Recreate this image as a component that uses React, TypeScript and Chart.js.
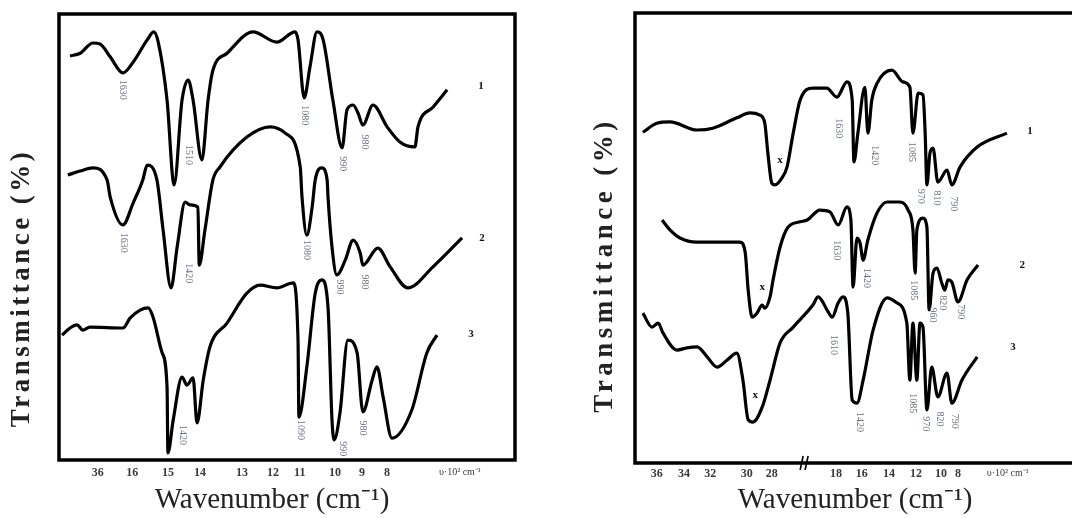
import React, { useEffect, useRef } from "react";
import { Chart, registerables } from "chart.js";

Chart.register(...registerables);

type P = [number, number];
type Note = [number, number, string];

// ---------- LEFT PANEL (x: position along the wavenumber axis, y: transmittance %) ----------
const leftTickPos = [8.8, 16.6, 24.7, 32.0, 41.5, 48.5, 54.6, 62.6, 68.7, 74.4, 90.9];
const leftTickLabels = ["36", "16", "15", "14", "13", "12", "11", "10", "9", "8", "υ·10² cm⁻¹"];

const left1: P[] = [
  [2.5, 90.6], [4.8, 91.2], [7.7, 93.5], [9.3, 93.3], [11.6, 90.4], [14.5, 86.8], [16.8, 89.2],
  [20.0, 94.2], [21.5, 96.0], [22.5, 93.7], [24.5, 80.7], [26.1, 61.7], [27.9, 80.7], [29.3, 85.2],
  [30.4, 80.7], [32.4, 67.3], [33.8, 80.7], [34.9, 87.4], [38.1, 91.2], [44.0, 96.0], [49.4, 93.7],
  [53.5, 96.0], [54.2, 94.2], [55.6, 81.2], [56.9, 88.1], [58.5, 96.0], [59.9, 94.2], [62.1, 80.7],
  [64.2, 70.0], [65.3, 78.5], [66.7, 79.6], [67.8, 77.8], [68.9, 75.1], [71.2, 79.6], [74.4, 74.7],
  [77.3, 71.3], [80.7, 70.2], [81.4, 74.7], [84.8, 79.1], [88.0, 83.0],
];
const left2: P[] = [
  [2.0, 63.9], [4.8, 64.8], [7.7, 65.5], [10.9, 62.8], [11.6, 59.0], [14.5, 52.7], [16.8, 57.6],
  [19.0, 62.8], [20.0, 66.1], [22.2, 62.8], [23.6, 51.6], [25.4, 38.6], [26.8, 47.8], [28.6, 57.8],
  [29.7, 57.2], [31.5, 56.7], [31.8, 43.7], [33.1, 51.6], [34.9, 62.8], [36.5, 65.7], [42.6, 72.4],
  [47.9, 74.7], [51.3, 73.3], [54.7, 65.7], [55.1, 59.0], [56.2, 50.4], [57.4, 56.7], [58.1, 62.8],
  [59.6, 65.5], [60.8, 62.8], [61.0, 59.0], [61.9, 47.8], [63.0, 41.5], [64.9, 44.8], [66.7, 49.3],
  [68.3, 46.4], [68.9, 43.7], [72.3, 47.5], [75.1, 43.3], [79.1, 38.6], [84.8, 43.3], [91.4, 49.8],
];
const left3: P[] = [
  [0.7, 28.0], [2.5, 29.6], [4.1, 30.3], [5.4, 29.1], [7.0, 29.8], [14.5, 29.6], [16.1, 31.8],
  [18.4, 33.6], [20.2, 34.1], [21.3, 32.1], [23.4, 24.0], [24.5, 16.4], [24.7, 1.6], [25.9, 9.0],
  [27.9, 18.6], [29.0, 16.8], [30.4, 18.4], [31.3, 8.3], [32.7, 17.9], [34.2, 25.3], [38.1, 30.7],
  [42.6, 37.4], [45.6, 39.2], [49.4, 38.6], [53.1, 39.7], [54.2, 26.9], [54.4, 9.6], [56.2, 20.9],
  [58.1, 37.4], [59.6, 40.4], [61.0, 34.3], [61.9, 9.0], [62.4, 4.5], [63.7, 10.5], [65.5, 26.9],
  [67.6, 24.0], [68.9, 10.8], [71.0, 17.9], [72.1, 20.9], [73.5, 14.1], [75.5, 4.9], [80.0, 11.2],
  [83.4, 24.0], [85.7, 28.0],
];
const leftPeaks: Note[] = [
  [14.5, 83.0, "1630"], [29.3, 68.4, "1510"], [55.6, 77.3, "1080"], [64.4, 66.4, "990"], [69.4, 71.3, "980"],
  [14.7, 48.7, "1630"], [29.3, 41.9, "1420"], [56.2, 47.1, "1080"], [63.7, 38.8, "990"], [69.2, 39.9, "980"],
  [28.1, 5.6, "1420"], [54.7, 6.7, "1090"], [64.2, 2.5, "990"], [68.9, 7.2, "980"],
];
const leftCurveNames: Note[] = [[95.7, 83.9, "1"], [95.9, 49.8, "2"], [93.4, 28.2, "3"]];

// ---------- RIGHT PANEL ----------
const rightTickPos = [5.0, 11.2, 17.2, 25.6, 31.3, 46.0, 51.9, 58.1, 64.3, 70.0, 73.9, 85.3];
const rightTickLabels = ["36", "34", "32", "30", "28", "18", "16", "14", "12", "10", "8", "υ·10² cm⁻¹"];
const rightBreakPos = 38.7;

const right1: P[] = [
  [1.8, 73.5], [5.0, 75.5], [8.0, 75.8], [14.2, 74.0], [17.8, 74.4], [23.3, 76.7], [26.3, 77.8],
  [28.6, 77.3], [29.7, 75.5], [30.4, 68.9], [31.3, 62.2], [32.0, 61.8], [33.6, 63.3], [34.8, 65.8],
  [36.2, 73.3], [37.8, 80.7], [40.7, 83.3], [43.9, 83.3], [46.2, 81.3], [48.5, 84.7], [49.7, 80.7],
  [50.1, 66.9], [51.0, 73.3], [52.6, 83.5], [53.3, 73.3], [54.2, 80.7], [55.4, 84.4], [58.8, 87.3],
  [61.3, 84.7], [62.9, 83.5], [63.6, 73.3], [64.8, 82.2], [65.9, 81.8], [66.4, 73.3], [66.8, 61.8],
  [67.5, 68.9], [68.2, 70.0], [69.3, 62.4], [71.4, 65.1], [72.5, 61.8], [74.4, 65.8], [78.3, 70.2],
  [85.1, 73.3],
];
const right2: P[] = [
  [6.2, 54.0], [8.0, 51.8], [10.3, 50.0], [14.2, 49.1], [24.0, 49.1], [25.2, 46.9], [25.9, 38.4],
  [26.8, 32.4], [27.9, 33.3], [29.1, 35.1], [29.7, 34.4], [30.9, 36.9], [31.6, 40.7], [33.2, 48.0],
  [35.0, 52.4], [37.8, 53.6], [39.4, 54.0], [42.3, 56.2], [44.6, 55.8], [46.5, 52.9], [48.5, 56.9],
  [49.4, 54.0], [49.9, 39.1], [50.8, 50.0], [51.5, 48.9], [52.2, 45.1], [53.3, 49.6], [55.4, 55.6],
  [57.7, 58.0], [60.6, 58.0], [62.5, 56.2], [63.6, 51.8], [64.1, 42.2], [64.5, 51.8], [65.9, 54.4],
  [66.8, 52.4], [67.3, 34.0], [68.2, 42.2], [69.1, 43.3], [70.2, 40.0], [70.9, 38.4], [71.6, 40.7],
  [72.5, 40.2], [73.9, 35.8], [76.0, 40.7], [78.5, 44.0],
];
const right3: P[] = [
  [1.8, 33.3], [3.9, 30.2], [5.3, 31.1], [6.4, 28.9], [9.6, 25.1], [11.9, 25.6], [14.2, 25.8],
  [16.5, 23.6], [18.8, 21.3], [21.1, 22.9], [23.3, 24.4], [24.7, 18.4], [25.9, 9.6], [27.0, 9.1],
  [29.1, 12.4], [30.9, 18.4], [33.2, 26.7], [36.2, 30.2], [40.7, 35.1], [41.9, 36.9], [44.2, 33.6],
  [45.1, 32.4], [46.5, 35.6], [47.6, 36.9], [48.7, 33.3], [49.7, 14.0], [50.8, 13.3], [52.2, 18.4],
  [54.5, 29.6], [57.7, 36.7], [59.9, 35.6], [62.2, 31.1], [62.9, 18.4], [63.6, 31.1], [64.5, 18.4],
  [65.2, 31.1], [65.9, 30.2], [66.8, 11.8], [67.9, 21.3], [69.3, 14.7], [71.4, 20.0], [72.5, 13.3],
  [74.8, 18.4], [78.3, 23.6],
];
const rightPeaks: Note[] = [
  [46.5, 74.4, "1630"], [54.9, 68.4, "1420"], [63.4, 69.1, "1085"], [65.4, 59.3, "970"], [69.1, 58.9, "810"], [73.0, 57.6, "790"],
  [46.2, 47.3, "1630"], [52.9, 41.1, "1420"], [63.8, 38.4, "1085"], [68.2, 32.9, "960"], [70.5, 35.6, "820"], [74.4, 33.6, "790"],
  [45.5, 26.2, "1610"], [51.5, 9.1, "1420"], [63.6, 13.3, "1085"], [66.6, 8.7, "970"], [69.8, 9.8, "820"], [73.2, 9.3, "790"],
];
const rightCurveNames: Note[] = [[90.4, 73.8, "1"], [88.6, 44.0, "2"], [86.5, 25.8, "3"]];
const rightXMarks: Note[] = [[33.2, 67.3, "x"], [29.1, 39.1, "x"], [27.5, 15.1, "x"]];

const yTitle = "Transmittance (%)";
const xTitle = "Wavenumber (cm⁻¹)";

const SERIF = "'Liberation Serif', 'Times New Roman', serif";

const decorPlugin = {
  id: "decor",
  afterDatasetsDraw(chart: any, _args: any, o: any) {
    const { ctx, chartArea: ca, scales } = chart;
    const xs = scales.x;
    const ys = scales.y;
    ctx.save();
    // frame
    ctx.strokeStyle = "#000";
    ctx.lineWidth = 3.5;
    ctx.lineCap = "square";
    ctx.beginPath();
    if (o.closed) {
      ctx.rect(ca.left, ca.top, ca.right - ca.left, ca.bottom - ca.top);
    } else {
      ctx.moveTo(ca.right + 4, ca.top);
      ctx.lineTo(ca.left, ca.top);
      ctx.lineTo(ca.left, ca.bottom);
      ctx.lineTo(ca.right + 4, ca.bottom);
    }
    ctx.stroke();
    // axis break
    if (o.breakAt != null) {
      const bx = xs.getPixelForValue(o.breakAt);
      ctx.lineWidth = 1.6;
      ctx.lineCap = "butt";
      for (const dx of [-2.5, 2.5]) {
        ctx.beginPath();
        ctx.moveTo(bx + dx - 1.5, ca.bottom + 7);
        ctx.lineTo(bx + dx + 1.5, ca.bottom - 7);
        ctx.stroke();
      }
    }
    // peak labels (rotated)
    ctx.fillStyle = "#6b7282";
    ctx.font = `10px ${SERIF}`;
    ctx.textAlign = "center";
    ctx.textBaseline = "middle";
    for (const [x, y, t] of o.peaks) {
      ctx.save();
      ctx.translate(xs.getPixelForValue(x), ys.getPixelForValue(y));
      ctx.rotate(Math.PI / 2);
      ctx.fillText(t, 0, 0);
      ctx.restore();
    }
    // curve numbers and marks
    ctx.fillStyle = "#111";
    ctx.font = `bold 11px ${SERIF}`;
    for (const [x, y, t] of [...o.names, ...(o.marks || [])]) {
      ctx.fillText(t, xs.getPixelForValue(x), ys.getPixelForValue(y));
    }
    // axis titles
    ctx.fillStyle = "#222";
    ctx.font = `29px ${SERIF}`;
    ctx.fillText(xTitle, o.xTitleX, o.xTitleY);
    ctx.save();
    ctx.translate(o.yTitleX, o.yTitleY);
    ctx.rotate(-Math.PI / 2);
    ctx.font = `bold 27px ${SERIF}`;
    (ctx as any).letterSpacing = o.letterSpacing;
    ctx.fillText(yTitle, 0, 0);
    ctx.restore();
    ctx.restore();
  },
};

function makeConfig(p: any) {
  return {
    type: "line",
    data: {
      datasets: p.series.map((s: P[]) => ({
        data: s.map(([x, y]) => ({ x, y })),
        borderColor: "#000",
        borderWidth: 3.2,
        pointRadius: 0,
        cubicInterpolationMode: "monotone",
        fill: false,
        clip: false,
      })),
    },
    options: {
      responsive: false,
      animation: false,
      events: [],
      layout: { padding: p.padding },
      plugins: {
        legend: { display: false },
        tooltip: { enabled: false },
        decor: p.decor,
      },
      scales: {
        x: {
          type: "linear",
          min: 0,
          max: p.xMax,
          grid: { display: false, drawTicks: false },
          border: { display: false },
          afterBuildTicks: (s: any) => {
            s.ticks = p.tickPos.map((v: number) => ({ value: v }));
          },
          afterFit: (s: any) => {
            s.height = p.axisHeight;
          },
          ticks: {
            autoSkip: false,
            maxRotation: 0,
            minRotation: 0,
            padding: p.tickPadding,
            color: "#3a3a3a",
            font: (c: any) =>
              c.index === p.tickLabels.length - 1
                ? { family: SERIF, size: 10 }
                : { family: SERIF, size: 12, weight: "bold" },
            callback: (_v: any, i: number) => p.tickLabels[i],
          },
        },
        y: { type: "linear", display: false, min: 0, max: 100 },
      },
    },
    plugins: [decorPlugin],
  };
}

function Panel(props: { cfg: any; left: number; width: number }) {
  const ref = useRef<HTMLCanvasElement | null>(null);
  useEffect(() => {
    const chart = new Chart(ref.current as HTMLCanvasElement, makeConfig(props.cfg) as any);
    return () => chart.destroy();
  }, []);
  return (
    <canvas
      ref={ref}
      width={props.width}
      height={518}
      style={{ position: "absolute", left: props.left, top: 0, width: props.width, height: 518 }}
    />
  );
}

const leftCfg = {
  series: [left1, left2, left3],
  xMax: 103.4,
  tickPos: leftTickPos,
  tickLabels: leftTickLabels,
  padding: { left: 59, right: 45, top: 14, bottom: 0 },
  axisHeight: 58,
  tickPadding: 6,
  decor: {
    closed: true,
    breakAt: null,
    peaks: leftPeaks,
    names: leftCurveNames,
    marks: [],
    xTitleX: 272,
    xTitleY: 500,
    yTitleX: 22,
    yTitleY: 288,
    letterSpacing: "3.5px",
  },
};

const rightCfg = {
  series: [right1, right2, right3],
  xMax: 100,
  tickPos: rightTickPos,
  tickLabels: rightTickLabels,
  padding: { left: 75, right: 0, top: 13, bottom: 0 },
  axisHeight: 55,
  tickPadding: 4,
  decor: {
    closed: false,
    breakAt: rightBreakPos,
    peaks: rightPeaks,
    names: rightCurveNames,
    marks: rightXMarks,
    xTitleX: 295,
    xTitleY: 500,
    yTitleX: 45,
    yTitleY: 265,
    letterSpacing: "4.5px",
  },
};

export default function App() {
  return (
    <div
      style={{
        position: "fixed",
        left: 0,
        top: 0,
        width: 1072,
        height: 518,
        background: "#fff",
        overflow: "hidden",
      }}
    >
      <Panel cfg={leftCfg} left={0} width={560} />
      <Panel cfg={rightCfg} left={560} width={512} />
    </div>
  );
}
